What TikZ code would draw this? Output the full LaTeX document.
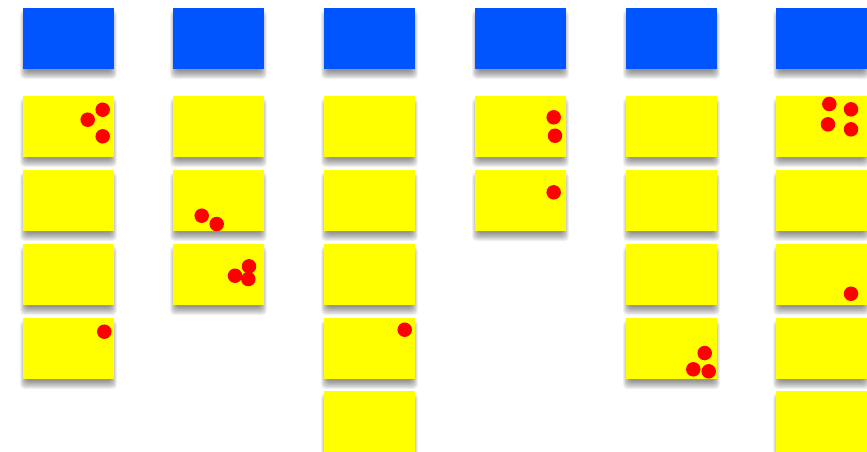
\documentclass[tikz,border=0pt]{standalone}
\usetikzlibrary{calc,backgrounds}
\definecolor{cblue}{RGB}{0,85,255}
\definecolor{cyel}{RGB}{255,255,0}
\definecolor{cred}{RGB}{255,0,0}
\tikzset{
  card/.style={anchor=north west, minimum width=91pt, minimum height=61pt, inner sep=0pt, outer sep=0pt},
  head/.style={card, fill=cblue},
  item/.style={card, fill=cyel},
  dot/.style={circle, fill=cred, minimum size=14.5pt, inner sep=0pt},
  shadowlayer/.style={fill=black, opacity=0.055, rounded corners=4pt}
}
\begin{document}
\begin{tikzpicture}[x=1pt,y=-1pt]
\useasboundingbox (0,0) rectangle (867,451);
% headers
\foreach \i/\x in {1/23,2/173,3/324,4/475,5/626,6/776}
  \node[head] (h\i) at (\x,8) {};
% column 1
\node[item] (c1r1) at (23,96) {};
\node[item] (c1r2) at (23,170) {};
\node[item] (c1r3) at (23,244) {};
\node[item] (c1r4) at (23,318) {};
% column 2
\node[item] (c2r1) at (173,96) {};
\node[item] (c2r2) at (173,170) {};
\node[item] (c2r3) at (173,244) {};
% column 3
\node[item] (c3r1) at (324,96) {};
\node[item] (c3r2) at (324,170) {};
\node[item] (c3r3) at (324,244) {};
\node[item] (c3r4) at (324,318) {};
\node[item] (c3r5) at (324,391) {};
% column 4
\node[item] (c4r1) at (475,96) {};
\node[item] (c4r2) at (475,170) {};
% column 5
\node[item] (c5r1) at (626,96) {};
\node[item] (c5r2) at (626,170) {};
\node[item] (c5r3) at (626,244) {};
\node[item] (c5r4) at (626,318) {};
% column 6
\node[item] (c6r1) at (776,96) {};
\node[item] (c6r2) at (776,170) {};
\node[item] (c6r3) at (776,244) {};
\node[item] (c6r4) at (776,318) {};
\node[item] (c6r5) at (776,391) {};
% soft shadows
\begin{pgfonlayer}{background}
\fill[white] (0,0) rectangle (867,451);
\foreach \n in {h1,h2,h3,h4,h5,h6,c1r1,c1r2,c1r3,c1r4,c2r1,c2r2,c2r3,c3r1,c3r2,c3r3,c3r4,c3r5,c4r1,c4r2,c5r1,c5r2,c5r3,c5r4,c6r1,c6r2,c6r3,c6r4,c6r5}
  \foreach \k in {-4,...,4}
    \fill[shadowlayer] ($(\n.north west)+(-0.7*\k,6-\k)$) rectangle ($(\n.south east)+(0.7*\k,6+\k)$);
\end{pgfonlayer}
% dots
\node[dot] (d1) at (87.7,119.7) {};
\node[dot] (d2) at (102.7,109.7) {};
\node[dot] (d3) at (102.7,136.3) {};
\node[dot] (d4) at (104.3,331.7) {};
\node[dot] (d5) at (201.7,215.7) {};
\node[dot] (d6) at (216.7,224) {};
\node[dot] (d7) at (235,275.7) {};
\node[dot] (d8) at (249,266.3) {};
\node[dot] (d9) at (248.3,279) {};
\node[dot] (d10) at (404.7,329.7) {};
\node[dot] (d11) at (553.7,117.3) {};
\node[dot] (d12) at (555,135.7) {};
\node[dot] (d13) at (553.7,192.3) {};
\node[dot] (d14) at (704.7,353) {};
\node[dot] (d15) at (693.3,369.3) {};
\node[dot] (d16) at (708.7,371.3) {};
\node[dot] (d17) at (829.3,104) {};
\node[dot] (d18) at (851,109.3) {};
\node[dot] (d19) at (828,124.3) {};
\node[dot] (d20) at (851,129.3) {};
\node[dot] (d21) at (851,293.7) {};
\end{tikzpicture}
\end{document}
